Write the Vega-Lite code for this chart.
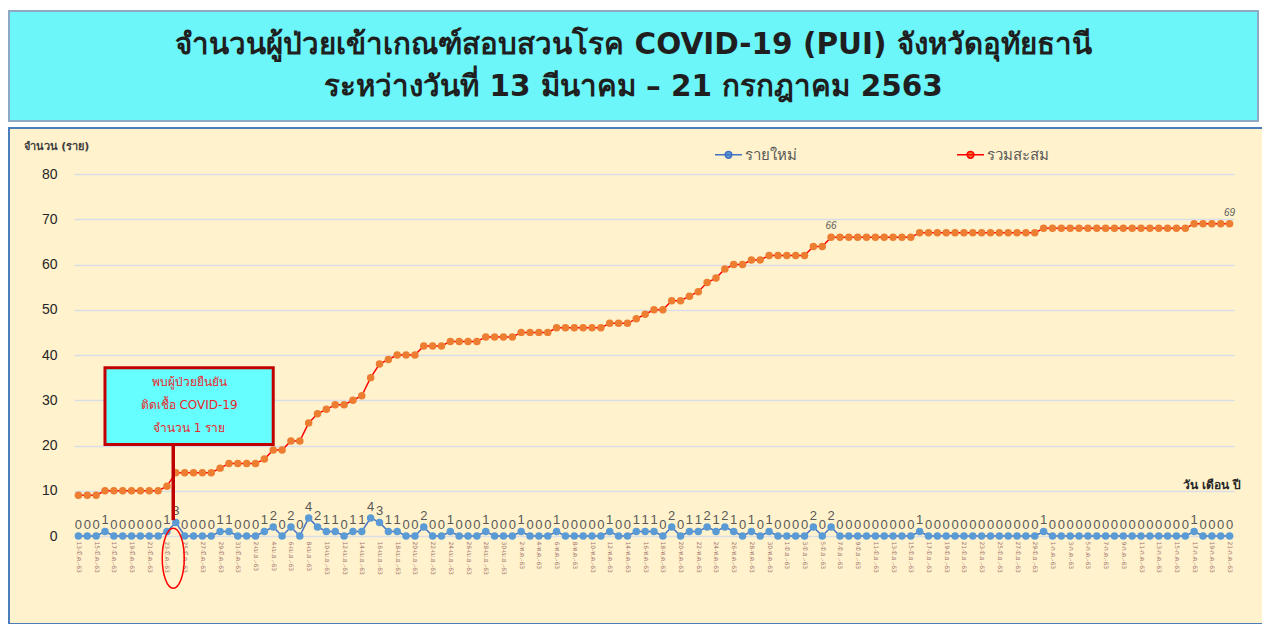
{
  "$schema": "https://vega.github.io/schema/vega-lite/v6.json",
  "background": "white",
  "padding": {"left": 8, "top": 10, "right": 0, "bottom": 0},
  "spacing": 5,
  "config": {"font": "DejaVu Sans"},
  "datasets": {
    "cases": [
      {"date": "2020-03-13", "new": 0, "total": 9},
      {"date": "2020-03-14", "new": 0, "total": 9},
      {"date": "2020-03-15", "new": 0, "total": 9},
      {"date": "2020-03-16", "new": 1, "total": 10},
      {"date": "2020-03-17", "new": 0, "total": 10},
      {"date": "2020-03-18", "new": 0, "total": 10},
      {"date": "2020-03-19", "new": 0, "total": 10},
      {"date": "2020-03-20", "new": 0, "total": 10},
      {"date": "2020-03-21", "new": 0, "total": 10},
      {"date": "2020-03-22", "new": 0, "total": 10},
      {"date": "2020-03-23", "new": 1, "total": 11},
      {"date": "2020-03-24", "new": 3, "total": 14},
      {"date": "2020-03-25", "new": 0, "total": 14},
      {"date": "2020-03-26", "new": 0, "total": 14},
      {"date": "2020-03-27", "new": 0, "total": 14},
      {"date": "2020-03-28", "new": 0, "total": 14},
      {"date": "2020-03-29", "new": 1, "total": 15},
      {"date": "2020-03-30", "new": 1, "total": 16},
      {"date": "2020-03-31", "new": 0, "total": 16},
      {"date": "2020-04-01", "new": 0, "total": 16},
      {"date": "2020-04-02", "new": 0, "total": 16},
      {"date": "2020-04-03", "new": 1, "total": 17},
      {"date": "2020-04-04", "new": 2, "total": 19},
      {"date": "2020-04-05", "new": 0, "total": 19},
      {"date": "2020-04-06", "new": 2, "total": 21},
      {"date": "2020-04-07", "new": 0, "total": 21},
      {"date": "2020-04-08", "new": 4, "total": 25},
      {"date": "2020-04-09", "new": 2, "total": 27},
      {"date": "2020-04-10", "new": 1, "total": 28},
      {"date": "2020-04-11", "new": 1, "total": 29},
      {"date": "2020-04-12", "new": 0, "total": 29},
      {"date": "2020-04-13", "new": 1, "total": 30},
      {"date": "2020-04-14", "new": 1, "total": 31},
      {"date": "2020-04-15", "new": 4, "total": 35},
      {"date": "2020-04-16", "new": 3, "total": 38},
      {"date": "2020-04-17", "new": 1, "total": 39},
      {"date": "2020-04-18", "new": 1, "total": 40},
      {"date": "2020-04-19", "new": 0, "total": 40},
      {"date": "2020-04-20", "new": 0, "total": 40},
      {"date": "2020-04-21", "new": 2, "total": 42},
      {"date": "2020-04-22", "new": 0, "total": 42},
      {"date": "2020-04-23", "new": 0, "total": 42},
      {"date": "2020-04-24", "new": 1, "total": 43},
      {"date": "2020-04-25", "new": 0, "total": 43},
      {"date": "2020-04-26", "new": 0, "total": 43},
      {"date": "2020-04-27", "new": 0, "total": 43},
      {"date": "2020-04-28", "new": 1, "total": 44},
      {"date": "2020-04-29", "new": 0, "total": 44},
      {"date": "2020-04-30", "new": 0, "total": 44},
      {"date": "2020-05-01", "new": 0, "total": 44},
      {"date": "2020-05-02", "new": 1, "total": 45},
      {"date": "2020-05-03", "new": 0, "total": 45},
      {"date": "2020-05-04", "new": 0, "total": 45},
      {"date": "2020-05-05", "new": 0, "total": 45},
      {"date": "2020-05-06", "new": 1, "total": 46},
      {"date": "2020-05-07", "new": 0, "total": 46},
      {"date": "2020-05-08", "new": 0, "total": 46},
      {"date": "2020-05-09", "new": 0, "total": 46},
      {"date": "2020-05-10", "new": 0, "total": 46},
      {"date": "2020-05-11", "new": 0, "total": 46},
      {"date": "2020-05-12", "new": 1, "total": 47},
      {"date": "2020-05-13", "new": 0, "total": 47},
      {"date": "2020-05-14", "new": 0, "total": 47},
      {"date": "2020-05-15", "new": 1, "total": 48},
      {"date": "2020-05-16", "new": 1, "total": 49},
      {"date": "2020-05-17", "new": 1, "total": 50},
      {"date": "2020-05-18", "new": 0, "total": 50},
      {"date": "2020-05-19", "new": 2, "total": 52},
      {"date": "2020-05-20", "new": 0, "total": 52},
      {"date": "2020-05-21", "new": 1, "total": 53},
      {"date": "2020-05-22", "new": 1, "total": 54},
      {"date": "2020-05-23", "new": 2, "total": 56},
      {"date": "2020-05-24", "new": 1, "total": 57},
      {"date": "2020-05-25", "new": 2, "total": 59},
      {"date": "2020-05-26", "new": 1, "total": 60},
      {"date": "2020-05-27", "new": 0, "total": 60},
      {"date": "2020-05-28", "new": 1, "total": 61},
      {"date": "2020-05-29", "new": 0, "total": 61},
      {"date": "2020-05-30", "new": 1, "total": 62},
      {"date": "2020-05-31", "new": 0, "total": 62},
      {"date": "2020-06-01", "new": 0, "total": 62},
      {"date": "2020-06-02", "new": 0, "total": 62},
      {"date": "2020-06-03", "new": 0, "total": 62},
      {"date": "2020-06-04", "new": 2, "total": 64},
      {"date": "2020-06-05", "new": 0, "total": 64},
      {"date": "2020-06-06", "new": 2, "total": 66},
      {"date": "2020-06-07", "new": 0, "total": 66},
      {"date": "2020-06-08", "new": 0, "total": 66},
      {"date": "2020-06-09", "new": 0, "total": 66},
      {"date": "2020-06-10", "new": 0, "total": 66},
      {"date": "2020-06-11", "new": 0, "total": 66},
      {"date": "2020-06-12", "new": 0, "total": 66},
      {"date": "2020-06-13", "new": 0, "total": 66},
      {"date": "2020-06-14", "new": 0, "total": 66},
      {"date": "2020-06-15", "new": 0, "total": 66},
      {"date": "2020-06-16", "new": 1, "total": 67},
      {"date": "2020-06-17", "new": 0, "total": 67},
      {"date": "2020-06-18", "new": 0, "total": 67},
      {"date": "2020-06-19", "new": 0, "total": 67},
      {"date": "2020-06-20", "new": 0, "total": 67},
      {"date": "2020-06-21", "new": 0, "total": 67},
      {"date": "2020-06-22", "new": 0, "total": 67},
      {"date": "2020-06-23", "new": 0, "total": 67},
      {"date": "2020-06-24", "new": 0, "total": 67},
      {"date": "2020-06-25", "new": 0, "total": 67},
      {"date": "2020-06-26", "new": 0, "total": 67},
      {"date": "2020-06-27", "new": 0, "total": 67},
      {"date": "2020-06-28", "new": 0, "total": 67},
      {"date": "2020-06-29", "new": 0, "total": 67},
      {"date": "2020-06-30", "new": 1, "total": 68},
      {"date": "2020-07-01", "new": 0, "total": 68},
      {"date": "2020-07-02", "new": 0, "total": 68},
      {"date": "2020-07-03", "new": 0, "total": 68},
      {"date": "2020-07-04", "new": 0, "total": 68},
      {"date": "2020-07-05", "new": 0, "total": 68},
      {"date": "2020-07-06", "new": 0, "total": 68},
      {"date": "2020-07-07", "new": 0, "total": 68},
      {"date": "2020-07-08", "new": 0, "total": 68},
      {"date": "2020-07-09", "new": 0, "total": 68},
      {"date": "2020-07-10", "new": 0, "total": 68},
      {"date": "2020-07-11", "new": 0, "total": 68},
      {"date": "2020-07-12", "new": 0, "total": 68},
      {"date": "2020-07-13", "new": 0, "total": 68},
      {"date": "2020-07-14", "new": 0, "total": 68},
      {"date": "2020-07-15", "new": 0, "total": 68},
      {"date": "2020-07-16", "new": 0, "total": 68},
      {"date": "2020-07-17", "new": 1, "total": 69},
      {"date": "2020-07-18", "new": 0, "total": 69},
      {"date": "2020-07-19", "new": 0, "total": 69},
      {"date": "2020-07-20", "new": 0, "total": 69},
      {"date": "2020-07-21", "new": 0, "total": 69}
    ],
    "note": [{"label": "annotation"}]
  },
  "vconcat": [
    {
      "width": 1249,
      "height": 110,
      "view": {"fill": "#6CF6F9", "stroke": "#8DA9C4", "strokeWidth": 2},
      "data": {"values": [
        {"line": 1, "text": "จำนวนผู้ป่วยเข้าเกณฑ์สอบสวนโรค  COVID-19 (PUI) จังหวัดอุทัยธานี"},
        {"line": 2, "text": "ระหว่างวันที่ 13 มีนาคม – 21 กรกฎาคม 2563"}
      ]},
      "mark": {"type": "text", "fontSize": 29.5, "fontWeight": "bold", "color": "#1F1F1F", "baseline": "middle"},
      "encoding": {
        "y": {"field": "line", "type": "ordinal", "axis": null, "scale": {"padding": 0.8}},
        "text": {"field": "text"}
      }
    },
    {
      "width": 1254,
      "height": 496,
      "view": {"fill": "#FFF2CC", "stroke": "#4A7EBB", "strokeWidth": 2},
      "layer": [
        {
          "data": {"name": "cases"},
          "transform": [{"fold": ["new", "total"], "as": ["series", "value"]}],
          "mark": {"type": "line", "strokeWidth": 1.5},
          "encoding": {
            "x": {
              "field": "date",
              "type": "temporal",
              "scale": {"type": "utc", "domain": [1584014400000, 1595332800000], "range": [65, 1225]},
              "axis": {
                "title": "วัน เดือน ปี",
                "offset": -88,
                "domain": false,
                "ticks": false,
                "grid": false,
                "tickCount": {"interval": "day", "step": 1},
                "labelAngle": 90,
                "labelFontSize": 6,
                "labelColor": "#A07070",
                "labelPadding": 5,
                "labelOverlap": false,
                "labelFlush": false,
                "labelExpr": "(round((datum.value - 1584057600000) / 86400000) % 2 == 0) ? (utcdate(datum.value) + '-' + ['ม.ค.','ก.พ.','มี.ค.','เม.ย.','พ.ค.','มิ.ย.','ก.ค.'][utcmonth(datum.value)] + '-63') : ''",
                "titleX": 1232,
                "titleY": -52,
                "titleAlign": "right",
                "titleBaseline": "middle",
                "titleFontSize": 12,
                "titleFontWeight": "bold",
                "titleColor": "#262626"
              }
            },
            "y": {
              "field": "value",
              "type": "quantitative",
              "scale": {"domain": [0, 80], "range": [408, 46], "nice": false},
              "axis": {
                "title": "จำนวน (ราย)",
                "offset": -65,
                "domain": false,
                "ticks": false,
                "tickSize": 0,
                "labelPadding": 17,
                "labelFontSize": 14,
                "labelFont": "Liberation Sans",
                "labelColor": "#262626",
                "values": [0, 10, 20, 30, 40, 50, 60, 70, 80],
                "gridColor": "#D9DDE6",
                "gridWidth": 1.5,
                "titleAngle": 0,
                "titleX": -51,
                "titleY": 18,
                "titleAlign": "left",
                "titleBaseline": "middle",
                "titleFontSize": 11,
                "titleFontWeight": "bold",
                "titleColor": "#404040"
              }
            },
            "stroke": {
              "field": "series",
              "type": "nominal",
              "scale": {"domain": ["new", "total"], "range": ["#4472C4", "#FF0000"]},
              "legend": {
                "orient": "none",
                "legendX": 705,
                "legendY": 129,
                "direction": "horizontal",
                "title": null,
                "symbolType": "M-1,0H1M0.25,0A0.25,0.25 0 1,1 -0.25,0A0.25,0.25 0 1,1 0.25,0Z",
                "symbolSize": 729,
                "symbolStrokeWidth": 1.5,
                "labelFontSize": 15,
                "labelColor": "#595959",
                "columnPadding": 157,
                "labelOffset": 2,
                "labelExpr": "datum.value == 'new' ? 'รายใหม่' : 'รวมสะสม'"
              }
            }
          }
        },
        {
          "data": {"name": "cases"},
          "transform": [{"fold": ["new", "total"], "as": ["series", "value"]}],
          "mark": {"type": "point", "filled": true, "size": 56, "opacity": 1},
          "encoding": {
            "x": {"field": "date", "type": "temporal"},
            "y": {"field": "value", "type": "quantitative"},
            "fill": {
              "field": "series",
              "type": "nominal",
              "scale": {"domain": ["new", "total"], "range": ["#5B9BD5", "#ED7D31"]},
              "legend": {
                "orient": "none",
                "legendX": 705,
                "legendY": 129,
                "direction": "horizontal",
                "title": null,
                "symbolType": "M-1,0H1M0.25,0A0.25,0.25 0 1,1 -0.25,0A0.25,0.25 0 1,1 0.25,0Z",
                "symbolSize": 729,
                "symbolStrokeWidth": 1.5,
                "labelFontSize": 15,
                "labelColor": "#595959",
                "columnPadding": 157,
                "labelOffset": 2,
                "labelExpr": "datum.value == 'new' ? 'รายใหม่' : 'รวมสะสม'"
              }
            }
          }
        },
        {
          "data": {"name": "cases"},
          "mark": {"type": "text", "fontSize": 13, "font": "Liberation Sans", "color": "#595959", "dy": -11},
          "encoding": {
            "x": {"field": "date", "type": "temporal"},
            "y": {"field": "new", "type": "quantitative"},
            "text": {"field": "new", "type": "quantitative"}
          }
        },
        {
          "data": {"name": "cases"},
          "transform": [{"filter": "time(datum.date) == 1591401600000 || time(datum.date) == 1595289600000"}],
          "mark": {"type": "text", "fontSize": 10, "fontStyle": "italic", "font": "Liberation Sans", "color": "#595959", "dy": -11},
          "encoding": {
            "x": {"field": "date", "type": "temporal"},
            "y": {"field": "total", "type": "quantitative"},
            "text": {"field": "total", "type": "quantitative"}
          }
        },
        {
          "data": {"name": "note"},
          "mark": {"type": "rect", "fill": "#66FFFF", "stroke": "#C00000", "strokeWidth": 3},
          "encoding": {
            "x": {"datum": {"year": 2020, "month": 3, "date": 16, "utc": true}, "type": "temporal"},
            "x2": {"datum": {"year": 2020, "month": 4, "date": 4, "utc": true}},
            "y": {"datum": 37.2, "type": "quantitative"},
            "y2": {"datum": 20.2}
          }
        },
        {
          "data": {"name": "note"},
          "mark": {"type": "text", "fontSize": 12, "color": "#E8262B", "lineHeight": 23, "baseline": "middle", "align": "center", "text": ["พบผู้ป่วยยืนยัน", "ติดเชื้อ COVID-19", "จำนวน  1 ราย"]},
          "encoding": {
            "x": {"datum": {"year": 2020, "month": 3, "date": 25, "hours": 12, "utc": true}, "type": "temporal"},
            "y": {"datum": 34.0, "type": "quantitative"}
          }
        },
        {
          "data": {"name": "note"},
          "mark": {"type": "rule", "stroke": "#C00000", "strokeWidth": 3.5},
          "encoding": {
            "x": {"datum": {"year": 2020, "month": 3, "date": 23, "hours": 17, "utc": true}, "type": "temporal"},
            "y": {"datum": 20.2, "type": "quantitative"},
            "y2": {"datum": 3.5}
          }
        },
        {
          "data": {"name": "note"},
          "mark": {"type": "point", "shape": "M0,-1A0.367,1 0 1,1 0,1A0.367,1 0 1,1 0,-1Z", "size": 3600, "filled": false, "stroke": "#FF0000", "strokeWidth": 1.5, "opacity": 1},
          "encoding": {
            "x": {"datum": {"year": 2020, "month": 3, "date": 23, "hours": 17, "utc": true}, "type": "temporal"},
            "y": {"datum": -4.9, "type": "quantitative"}
          }
        }
      ]
    }
  ]
}
